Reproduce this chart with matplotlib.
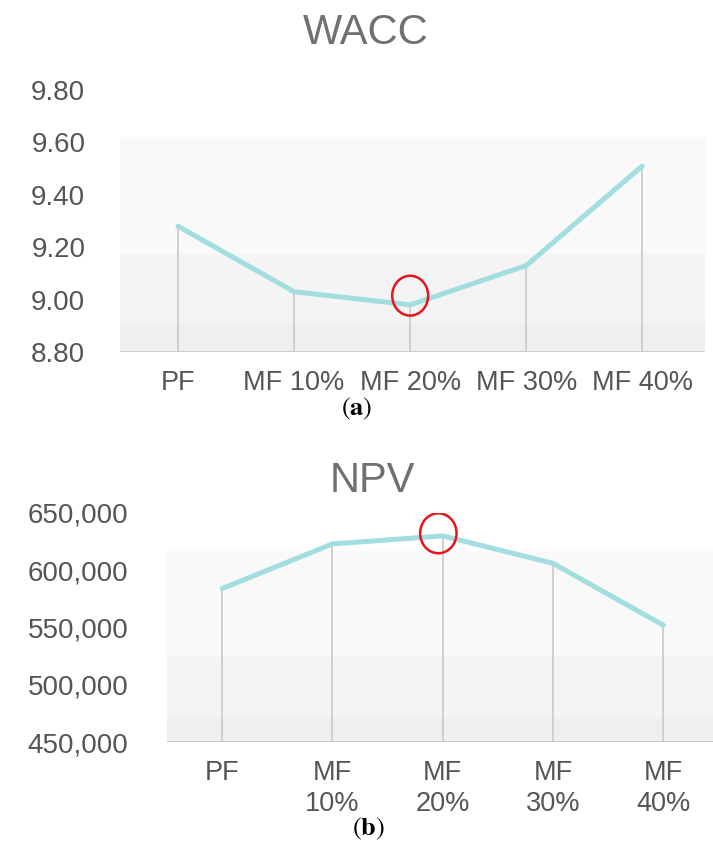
import matplotlib
matplotlib.use("Agg")
import matplotlib.pyplot as plt
from matplotlib.patches import Ellipse

plt.rcParams['font.family'] = ['Liberation Sans', 'DejaVu Sans']
plt.rcParams['mathtext.fontset'] = 'stix'

# data
scenarios_a = ['PF', 'MF 10%', 'MF 20%', 'MF 30%', 'MF 40%']
scenarios_b = ['PF', 'MF\n10%', 'MF\n20%', 'MF\n30%', 'MF\n40%']
wacc = [9.28, 9.03, 8.98, 9.13, 9.51]
npv = [584000, 623000, 630000, 606000, 552000]
wacc_ticks = [8.80, 9.00, 9.20, 9.40, 9.60, 9.80]
npv_ticks = [450000, 500000, 550000, 600000, 650000]

line_col = '#a2dde0'
drop_col = '#cfcfcf'
text_col = '#555555'
title_col = '#707070'


def draw_panel(ax, labels, values, ticks, fmt, bands, top_bg, highlight, xmax, ypad):
    x = list(range(len(values)))
    ax.set_xlim(-0.5, xmax)
    ax.set_ylim(ticks[0], ticks[-1])
    # background bands (lighter towards the top)
    ax.axhspan(ticks[0], bands[0], color='#efefef', zorder=0, lw=0)
    ax.axhspan(bands[0], bands[1], color='#f4f4f4', zorder=0, lw=0)
    ax.axhspan(bands[1], top_bg, color='#f9f9f9', zorder=0, lw=0)
    # drop lines
    ax.vlines(x, ticks[0], values, color=drop_col, lw=1.4, zorder=1)
    ax.plot(x, values, color=line_col, lw=3.6, solid_capstyle='round', zorder=2)
    ax.axhline(ticks[0], color='#c8c8c8', lw=2, zorder=3)
    cx, cy, w, h = highlight
    ax.add_patch(Ellipse((cx, cy), w, h, fill=False, ec='#e8141b', lw=1.8, zorder=4))
    ax.set_yticks(ticks)
    ax.set_yticklabels([fmt(t) for t in ticks], color=text_col, fontsize=20)
    ax.set_xticks(x)
    ax.set_xticklabels(labels, color=text_col, fontsize=19.5, linespacing=1.25)
    ax.tick_params(length=0)
    ax.tick_params(axis='x', pad=13)
    ax.tick_params(axis='y', pad=ypad)
    for s in ax.spines.values():
        s.set_visible(False)
    ax.patch.set_alpha(0)


fig = plt.figure(figsize=(7.13, 8.43), dpi=100)

ax1 = fig.add_axes([120 / 713, 1 - 352 / 843, 585 / 713, (352 - 90) / 843])
draw_panel(ax1, scenarios_a, wacc, wacc_ticks, lambda v: f'{v:.2f}',
           (8.912, 9.173), 9.62, (2, 9.015, 0.31, 0.152), 4.54, 25)
fig.text(366 / 713, 1 - 33 / 843, 'WACC', ha='center', va='center',
         fontsize=30, color=title_col)
fig.text(357 / 713, 1 - 409 / 843, r'$(\mathbf{a})$', ha='center', va='center',
         fontsize=19, color='black')

ax2 = fig.add_axes([167 / 713, 1 - 742 / 843, 546 / 713, (742 - 513) / 843])
draw_panel(ax2, scenarios_b, npv, npv_ticks, lambda v: f'{v:,.0f}',
           (471800, 524100), 616600, (1.96, 632300, 0.33, 34900), 4.45, 28)
fig.text(372 / 713, 1 - 481 / 843, 'NPV', ha='center', va='center',
         fontsize=30, color=title_col)
fig.text(368 / 713, 1 - 829 / 843, r'$(\mathbf{b})$', ha='center', va='center',
         fontsize=19, color='black')

fig.savefig('out.png', dpi=100)
